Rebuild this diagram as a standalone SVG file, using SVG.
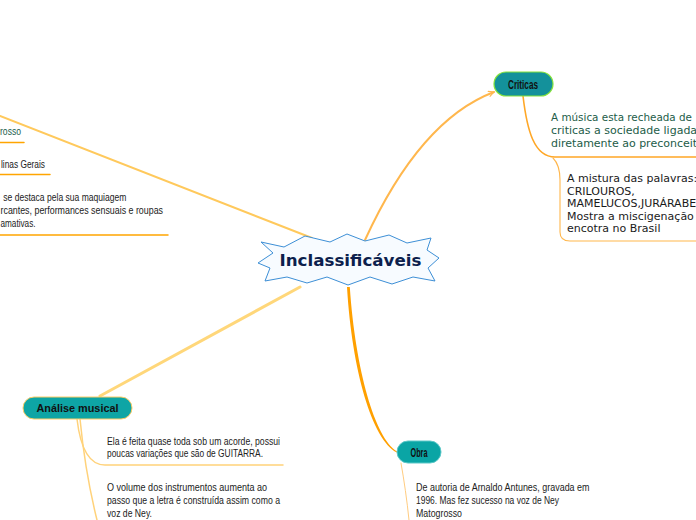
<svg xmlns="http://www.w3.org/2000/svg" width="696" height="520" viewBox="0 0 696 520">
<style>
.cond{font-family:"Liberation Sans Narrow","Liberation Sans",Arial,sans-serif;font-size:11px;fill:#222}
.verd{font-family:"DejaVu Sans",Verdana,sans-serif;font-size:11px}
.pill{font-family:"Liberation Sans Narrow","Liberation Sans",Arial,sans-serif;font-size:12px;font-weight:bold;fill:#111;text-anchor:middle}
.conn{fill:none;stroke-linecap:round}
</style>
<defs>
<marker id="arr" viewBox="0 0 10 10" refX="9" refY="5" markerWidth="7" markerHeight="7" markerUnits="userSpaceOnUse" orient="auto">
<path d="M1,1 L9,5 L1,9" fill="none" stroke="#ffb74d" stroke-width="1.6"/>
</marker>
</defs>
<rect width="696" height="520" fill="#ffffff"/>
<g id="connectors">
<path class="conn" d="M0,116 L312,238" stroke="#ffc95c" stroke-width="2"/>
<path class="conn" d="M300,287 L100,396" stroke="#ffd77a" stroke-width="3"/>
<path class="conn" d="M365,240 Q420,120 494,92" stroke="#ffb74d" stroke-width="2" marker-end="url(#arr)"/>
<path d="M347,287 C352,370 372,440 397,452.5 L397,451.5 C375,438 355.5,370 349.8,287 Z" fill="#ffa000"/>
<path class="conn" d="M523,96 C527,130 534,157 555,157 L696,157" stroke="#ffa726" stroke-width="1.6"/>
<path class="conn" d="M553,158 C559,164 560,172 560,180 L560,232 C560,238 563,241 570,241 L696,241" stroke="#ffb74d" stroke-width="1.1"/>
<path class="conn" d="M77,419 C80,445 88,465 105,465 L283,465" stroke="#ffd27a" stroke-width="1.5"/>
<path class="conn" d="M80,419 C84,460 92,500 97,520" stroke="#ffd27a" stroke-width="1.5"/>
<path class="conn" d="M401,463 C404,480 407,500 409,520" stroke="#ffcc80" stroke-width="1"/>
<path class="conn" d="M0,142.5 L24,142.5" stroke="#ffa500" stroke-width="1.5"/>
<path class="conn" d="M0,174.5 L50,174.5" stroke="#ffa500" stroke-width="1.5"/>
<path class="conn" d="M0,235 L168,235" stroke="#ffa500" stroke-width="1.5"/>
</g>
<g id="center">
<polygon points="261,242 284,247 305,236 330,242 347,234 365,241 389,235 407,243 431,238 427,250 439,258 428,268 435,281 413,277 392,284 370,277 348,285 327,277 307,283 287,277 265,281 270,268 258,263 273,253" fill="#f7fbff" stroke="#3d8fd6" stroke-width="1"/>
<text x="350.5" y="266" font-family="'DejaVu Sans',Verdana,sans-serif" font-size="15.5" font-weight="bold" fill="#0d1f4d" text-anchor="middle" textLength="142" lengthAdjust="spacingAndGlyphs">Inclassificáveis</text>
</g>
<g id="criticas">
<rect x="494" y="72" width="59" height="24" rx="12" fill="#14919b" stroke="#86e33a" stroke-width="1.2"/>
<text class="pill" x="523" y="88.5" textLength="30" lengthAdjust="spacingAndGlyphs">Criticas</text>
</g>
<g id="criticas-preconceito">
<text class="verd" fill="#235c48" x="551" y="121" textLength="141" lengthAdjust="spacingAndGlyphs">A música esta recheada de</text>
<text class="verd" fill="#235c48" x="551" y="134">criticas a sociedade ligada</text>
<text class="verd" fill="#235c48" x="551" y="147">diretamente ao preconceit</text>
</g>
<g id="criticas-mistura">
<text class="verd" fill="#1a1a1a"><tspan x="567" y="182">A mistura das palavras:</tspan><tspan x="567" y="194.5">CRILOUROS,</tspan><tspan x="567" y="207">MAMELUCOS,JURÁRABE</tspan><tspan x="567" y="219.5">Mostra a miscigenação</tspan><tspan x="567" y="232">encotra no Brasil</tspan></text>
</g>
<g id="topleft-rosso">
<text class="cond" x="0" y="134.5" style="fill:#1a5c4c" textLength="21" lengthAdjust="spacingAndGlyphs">rosso</text>
</g>
<g id="topleft-minas">
<text class="cond" x="1" y="168" textLength="44" lengthAdjust="spacingAndGlyphs">linas Gerais</text>
</g>
<g id="topleft-maquiagem">
<text class="cond" x="3.3" y="201" textLength="123" lengthAdjust="spacingAndGlyphs">se destaca pela sua maquiagem</text>
<text class="cond" x="0.5" y="214" textLength="162.5" lengthAdjust="spacingAndGlyphs">rcantes, performances sensuais e roupas</text>
<text class="cond" x="0.5" y="227" textLength="35" lengthAdjust="spacingAndGlyphs">amativas.</text>
</g>
<g id="analise">
<rect x="23" y="397" width="109" height="22" rx="11" fill="#0ea5a5" stroke="#ffcc66" stroke-width="1"/>
<text x="77.5" y="412" font-family="'Liberation Sans',Arial,sans-serif" font-size="11" font-weight="bold" fill="#111" text-anchor="middle" textLength="82" lengthAdjust="spacingAndGlyphs">Análise musical</text>
</g>
<g id="analise-acorde">
<text class="cond" x="107" y="444.5" textLength="173" lengthAdjust="spacingAndGlyphs">Ela é feita quase toda sob um acorde, possui</text>
<text class="cond" x="107" y="457" textLength="156" lengthAdjust="spacingAndGlyphs">poucas variações que  são de GUITARRA.</text>
</g>
<g id="analise-volume">
<text class="cond" x="107" y="491" textLength="160" lengthAdjust="spacingAndGlyphs">O volume dos instrumentos aumenta ao</text>
<text class="cond" x="107" y="504" textLength="173" lengthAdjust="spacingAndGlyphs">passo que a letra é construída assim como a</text>
<text class="cond" x="107" y="517" textLength="45" lengthAdjust="spacingAndGlyphs">voz de Ney.</text>
</g>
<g id="obra">
<rect x="397" y="441" width="44" height="22" rx="11" fill="#0aa5a5" stroke="#5cc8c8" stroke-width="1"/>
<text class="pill" x="419" y="456.5" textLength="17" lengthAdjust="spacingAndGlyphs">Obra</text>
</g>
<g id="obra-autoria">
<text class="cond" x="416" y="490.5" textLength="173.5" lengthAdjust="spacingAndGlyphs">De autoria de Arnaldo Antunes, gravada em</text>
<text class="cond" x="416" y="503.5" textLength="143" lengthAdjust="spacingAndGlyphs">1996. Mas fez sucesso na voz de Ney</text>
<text class="cond" x="416" y="517" textLength="46" lengthAdjust="spacingAndGlyphs">Matogrosso</text>
</g>
</svg>
